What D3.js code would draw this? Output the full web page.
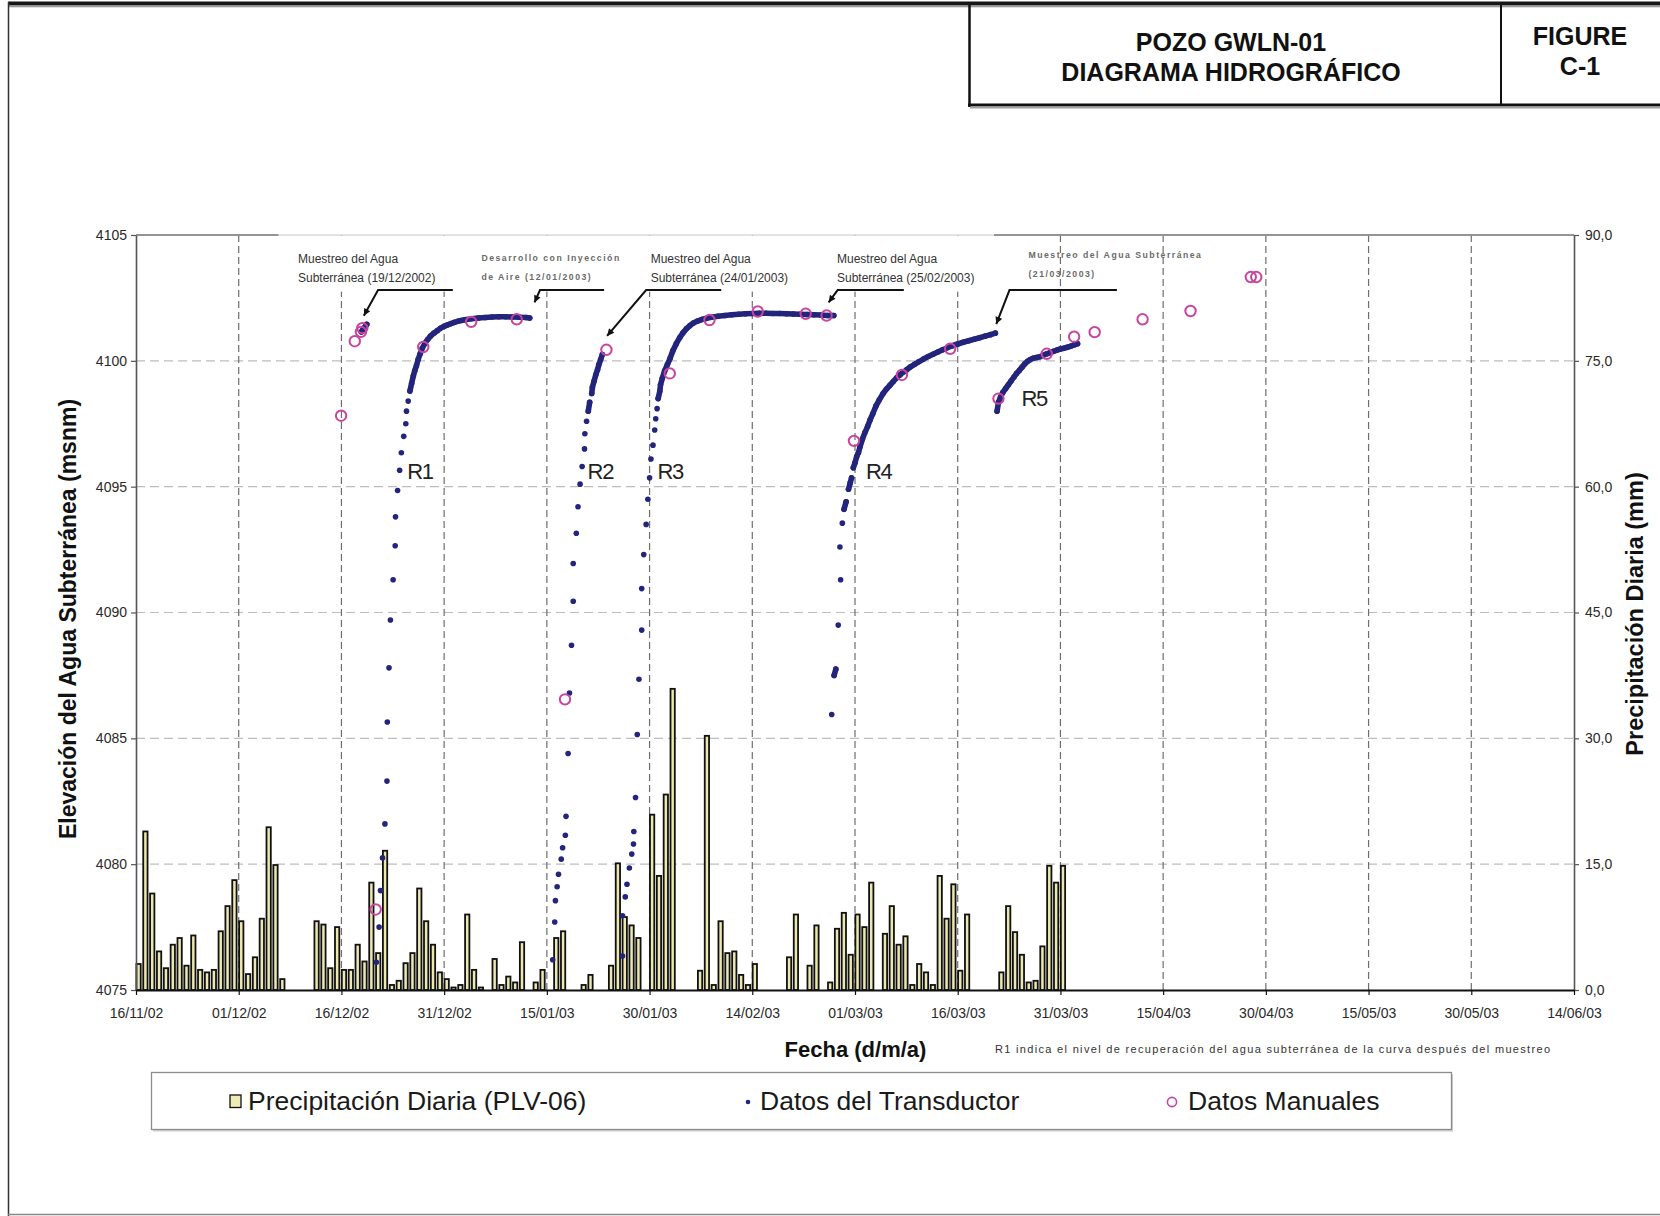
<!DOCTYPE html>
<html lang="es">
<head>
<meta charset="utf-8">
<title>Pozo GWLN-01 — Diagrama hidrográfico</title>
<script src="https://cdn.jsdelivr.net/npm/d3@7"></script>
<style>
  html, body { margin: 0; padding: 0; background: #fff; }
  svg { display: block; font-family: "Liberation Sans", Arial, Helvetica, sans-serif; }
</style>
</head>
<body>
<svg id="chart" width="1660" height="1216"></svg>
<script>
// ---------------------------------------------------------------------------
// Data. Days are counted from the first day of the record (16/11/2002).
// ---------------------------------------------------------------------------
const START_DATE = "2002-11-16";
const END_DATE = "2003-06-14";

const dateTicks = [
  "2002-11-16", "2002-12-01", "2002-12-16", "2002-12-31", "2003-01-15",
  "2003-01-30", "2003-02-14", "2003-03-01", "2003-03-16", "2003-03-31",
  "2003-04-15", "2003-04-30", "2003-05-15", "2003-05-30", "2003-06-14"
];
const elevationTicks = [4075, 4080, 4085, 4090, 4095, 4100, 4105];
const rainTicks = [0, 15, 30, 45, 60, 75, 90];

// Daily precipitation, station PLV-06 (mm)
const rainDay = [
  0, 1, 2, 3, 4, 5, 6, 7, 8, 9, 10, 11, 12, 13, 14, 15, 16, 17, 18, 19, 20, 21,
  26, 27, 28, 29, 30, 31, 32, 33, 34, 35, 36, 37, 38, 39, 40, 41, 42, 43, 44, 45, 46, 47, 48, 49, 50,
  52, 53, 54, 55, 56, 58, 59, 61, 62,
  65, 66, 69, 70, 71, 72, 73, 75, 76, 77, 78,
  82, 83, 84, 85, 86, 87, 88, 89, 90,
  95, 96, 98, 99, 101, 102, 103, 104, 105, 106, 107,
  109, 110, 111, 112, 113, 114, 115, 116, 117, 118, 119, 120, 121,
  126, 127, 128, 129, 130, 131, 132, 133, 134, 135
];
const rainMm = [
  3.1, 18.9, 11.5, 4.6, 2.6, 5.4, 6.2, 2.9, 6.5, 2.4, 2.1, 2.4, 7.0, 10.0, 13.1, 8.2, 1.9, 3.9, 8.5, 19.4, 14.9, 1.3,
  8.2, 7.8, 2.6, 7.5, 2.4, 2.4, 5.4, 3.4, 12.8, 4.4, 16.6, 0.6, 1.1, 3.2, 4.4, 12.1, 8.2, 5.4, 2.1, 1.3, 0.3, 0.6, 9.0, 2.4, 0.3,
  3.7, 0.6, 1.6, 0.9, 5.7, 0.9, 2.4, 6.2, 7.0,
  0.6, 1.8, 2.9, 15.1, 8.7, 7.7, 6.2, 20.9, 13.6, 23.3, 35.9,
  2.3, 30.3, 0.6, 8.2, 4.4, 4.6, 1.8, 0.6, 3.1,
  3.9, 9.0, 2.9, 7.7, 0.9, 7.3, 9.2, 4.2, 9.0, 7.5, 12.8,
  6.7, 10.0, 5.4, 6.4, 0.6, 3.1, 2.1, 0.6, 13.6, 8.5, 12.6, 2.3, 9.0,
  2.1, 10.0, 6.9, 4.2, 0.9, 1.1, 5.2, 14.8, 12.8, 14.8
];

// Transducer readings [day, elevation msnm], one array per logging run
const transducerPre = [
  [32.9, 4101.15], [33.1, 4101.22], [33.3, 4101.3], [33.5, 4101.37], [33.7, 4101.45]
];
const recoveryR1 = [
  [35.1, 4076.1], [35.5, 4077.5], [35.7, 4078.95], [36.0, 4080.25], [36.35, 4081.6],
  [36.65, 4083.3], [36.7, 4085.65], [36.95, 4087.8], [37.15, 4089.7], [37.55, 4091.3],
  [37.85, 4092.65], [37.9, 4093.8], [38.2, 4094.85], [38.5, 4095.65], [38.75, 4096.35],
  [39.1, 4097.0], [39.4, 4097.5], [39.5, 4098.0], [39.75, 4098.4], [40.0, 4098.8],
  [40.25, 4099.1], [40.5, 4099.4], [40.7, 4099.6], [40.95, 4099.8], [41.2, 4100.05],
  [41.45, 4100.25], [41.8, 4100.5], [42.2, 4100.7], [42.6, 4100.85], [43.0, 4100.98],
  [43.5, 4101.1], [44.0, 4101.2], [44.5, 4101.3], [45.0, 4101.37], [45.5, 4101.43],
  [46.0, 4101.48], [46.5, 4101.53], [47.0, 4101.57], [47.5, 4101.6], [48.0, 4101.63],
  [49.0, 4101.67], [50.0, 4101.7], [51.0, 4101.72], [52.0, 4101.74], [53.0, 4101.75],
  [54.0, 4101.75], [55.0, 4101.74], [56.0, 4101.73], [57.0, 4101.72], [57.5, 4101.7]
];
const recoveryR2 = [
  [60.85, 4076.2], [61.15, 4077.7], [61.25, 4078.55], [61.5, 4079.1], [61.7, 4079.6],
  [62.1, 4080.2], [62.3, 4080.65], [62.7, 4081.15], [62.8, 4081.9], [63.1, 4084.4],
  [63.3, 4086.8], [63.6, 4088.7], [63.85, 4090.45], [63.85, 4091.95], [64.3, 4093.15],
  [64.55, 4094.2], [64.85, 4095.1], [65.15, 4095.8], [65.5, 4096.5], [65.55, 4097.1],
  [65.8, 4097.6], [66.05, 4098.0], [66.25, 4098.35], [66.55, 4098.7], [66.65, 4098.95],
  [66.9, 4099.2], [67.15, 4099.45], [67.4, 4099.65], [67.6, 4099.85], [67.85, 4100.05],
  [68.1, 4100.25]
];
const recoveryR3 = [
  [71.05, 4076.35], [71.05, 4077.95], [71.45, 4078.7], [71.7, 4079.2], [72.05, 4079.85],
  [72.4, 4080.4], [72.65, 4080.8], [72.7, 4081.3], [72.95, 4082.65], [73.2, 4085.15],
  [73.45, 4087.35], [73.85, 4089.3], [73.85, 4090.95], [74.15, 4092.3], [74.5, 4093.5],
  [74.75, 4094.5], [75.0, 4095.35], [75.2, 4096.1], [75.5, 4096.65], [75.75, 4097.25],
  [75.9, 4097.7], [76.1, 4098.1], [76.25, 4098.5], [76.5, 4098.8], [76.6, 4099.05],
  [76.85, 4099.3], [77.2, 4099.6], [77.6, 4099.85], [78.0, 4100.1], [78.4, 4100.4],
  [78.9, 4100.68], [79.4, 4100.92], [79.9, 4101.12], [80.4, 4101.28], [80.9, 4101.4],
  [81.4, 4101.5], [82.0, 4101.58], [82.6, 4101.64], [83.2, 4101.68], [84.0, 4101.73],
  [85.0, 4101.77], [86.0, 4101.8], [87.0, 4101.83], [88.0, 4101.85], [89.0, 4101.87],
  [90.0, 4101.88], [91.0, 4101.89], [92.0, 4101.89], [93.0, 4101.88], [94.0, 4101.88],
  [95.0, 4101.87], [96.0, 4101.86], [97.0, 4101.85], [98.0, 4101.84], [99.0, 4101.83],
  [100.0, 4101.82], [101.0, 4101.8], [101.9, 4101.8]
];
const recoveryR4 = [
  [101.6, 4085.95], [101.95, 4087.5], [102.2, 4087.75], [102.55, 4089.5], [102.9, 4091.3],
  [102.8, 4092.6], [103.15, 4093.55], [103.4, 4094.1], [103.7, 4094.4], [104.05, 4094.9],
  [104.3, 4095.15], [104.5, 4095.35], [104.75, 4095.75], [105.0, 4095.95], [105.25, 4096.2],
  [105.5, 4096.35], [105.75, 4096.6], [106.1, 4096.9], [106.45, 4097.15], [106.85, 4097.4],
  [107.2, 4097.65], [107.6, 4097.9], [108.05, 4098.2], [108.55, 4098.45], [109.1, 4098.7],
  [109.6, 4098.88], [110.1, 4099.03], [110.6, 4099.18], [111.1, 4099.33], [111.6, 4099.45],
  [112.1, 4099.56], [112.6, 4099.66], [113.1, 4099.76], [113.7, 4099.86], [114.3, 4099.96],
  [115.0, 4100.07], [115.7, 4100.17], [116.4, 4100.26], [117.1, 4100.35], [117.8, 4100.44],
  [118.5, 4100.52], [119.2, 4100.6], [120.0, 4100.67], [120.8, 4100.74], [121.6, 4100.8],
  [122.4, 4100.86], [123.2, 4100.92], [124.0, 4100.98], [124.8, 4101.04], [125.5, 4101.1]
];
const recoveryR5 = [
  [125.75, 4098.0], [125.95, 4098.35], [126.25, 4098.55], [126.6, 4098.75], [127.0, 4098.9],
  [127.4, 4099.05], [127.8, 4099.2], [128.2, 4099.35], [128.6, 4099.5], [129.0, 4099.62],
  [129.4, 4099.75], [129.8, 4099.88], [130.2, 4099.98], [130.6, 4100.05], [131.0, 4100.1],
  [131.5, 4100.13], [132.0, 4100.16], [132.5, 4100.22], [133.0, 4100.28], [133.5, 4100.33],
  [134.0, 4100.38], [134.5, 4100.43], [135.0, 4100.47], [135.5, 4100.5], [136.0, 4100.54],
  [136.5, 4100.58], [137.0, 4100.63], [137.5, 4100.68]
];
const transducerRuns = [transducerPre, recoveryR1, recoveryR2, recoveryR3, recoveryR4, recoveryR5];

// Manual water-level soundings [day, elevation msnm]
const manualReadings = [
  [29.95, 4097.82], [31.95, 4100.78], [32.85, 4101.15], [33.05, 4101.3], [35.0, 4078.2],
  [41.95, 4100.55], [48.95, 4101.55], [55.6, 4101.65], [62.65, 4086.55], [68.7, 4100.44],
  [77.95, 4099.5], [83.75, 4101.62], [90.8, 4101.96], [97.8, 4101.87], [100.85, 4101.8],
  [104.85, 4096.82], [111.85, 4099.44], [118.9, 4100.48], [125.95, 4098.5], [133.0, 4100.28],
  [137.0, 4100.96], [140.0, 4101.14], [147.0, 4101.65], [154.0, 4101.98], [162.8, 4103.33],
  [163.6, 4103.33]
];

// Recovery curve names, anchored in chart units (day, elevation)
const recoveryNames = ["R1", "R2", "R3", "R4", "R5"];
const recoveryNameAt = [[39.6, 4095.3], [65.95, 4095.3], [76.15, 4095.3], [106.6, 4095.3], [129.3, 4098.2]];

// Event notes with callout arrows: tip, elbow and end of the leader (day, elevation)
const eventNotes = [
  { lines: ["Muestreo del Agua", "Subterránea (19/12/2002)"], style: "main",
    at: [23.66, 4103.9], leader: [[33.27, 4101.79], [35.35, 4102.81], [46.27, 4102.81]] },
  { lines: ["Desarrollo con Inyección", "de Aire (12/01/2003)"], style: "small",
    at: [50.44, 4103.95], leader: [[58.2, 4102.32], [59.0, 4102.81], [68.36, 4102.81]] },
  { lines: ["Muestreo del Agua", "Subterránea (24/01/2003)"], style: "main",
    at: [75.16, 4103.9], leader: [[68.8, 4100.99], [74.5, 4102.81], [85.46, 4102.81]] },
  { lines: ["Muestreo del Agua", "Subterránea (25/02/2003)"], style: "main",
    at: [102.37, 4103.9], leader: [[101.15, 4102.32], [102.46, 4102.81], [112.13, 4102.81]] },
  { lines: ["Muestreo del Agua Subterránea", "(21/03/2003)"], style: "small",
    at: [130.33, 4104.08], leader: [[125.63, 4101.46], [127.56, 4102.81], [143.25, 4102.81]] }
];

// ---------------------------------------------------------------------------
// Layout and scales
// ---------------------------------------------------------------------------
const W = 1660, H = 1216;
const plot = { left: 136, right: 1574, top: 235, bottom: 990 };
const FONT = '"Liberation Sans", Arial, Helvetica, sans-serif';
const NAVY = "#23247c";
const MAGENTA = "#c8459f";

const svg = d3.select("#chart");
svg.append("rect").attr("width", W).attr("height", H).attr("fill", "#fff");

const parseDate = d3.utcParse("%Y-%m-%d");
const t0 = parseDate(START_DATE);
const tickDates = dateTicks.map(parseDate);
const x = d3.scaleUtc().domain([t0, parseDate(END_DATE)]).range([plot.left, plot.right]);
const xDay = d => x(new Date(t0.getTime() + d * 864e5));
const y = d3.scaleLinear().domain([4075, 4105]).range([plot.bottom, plot.top]);
const yRain = d3.scaleLinear().domain([0, 90]).range([plot.bottom, plot.top]);

// ---------------------------------------------------------------------------
// Page frame and title block
// ---------------------------------------------------------------------------
const frame = svg.append("g");
frame.append("rect").attr("x", 8).attr("y", 1.5).attr("width", W - 8).attr("height", 4).attr("fill", "#161616");
frame.append("rect").attr("x", 8).attr("y", 5.5).attr("width", W - 8).attr("height", 1.8).attr("fill", "#9a9a9a");
frame.append("line").attr("x1", 8.5).attr("x2", 8.5).attr("y1", 2).attr("y2", H)
  .attr("stroke", "#333").attr("stroke-width", 1.5);
frame.append("line").attr("x1", 8).attr("x2", W).attr("y1", 1214.5).attr("y2", 1214.5)
  .attr("stroke", "#888").attr("stroke-width", 1.5);
// title box
frame.append("line").attr("x1", 969.5).attr("x2", 969.5).attr("y1", 5).attr("y2", 107)
  .attr("stroke", "#111").attr("stroke-width", 2.5);
frame.append("rect").attr("x", 968).attr("y", 103.5).attr("width", W - 968).attr("height", 3).attr("fill", "#111");
frame.append("rect").attr("x", 970).attr("y", 106.5).attr("width", W - 970).attr("height", 2).attr("fill", "#a0a0a0");
frame.append("line").attr("x1", 1501).attr("x2", 1501).attr("y1", 5).attr("y2", 104)
  .attr("stroke", "#111").attr("stroke-width", 2);

const titleText = (txt, cx, by) => frame.append("text").attr("x", cx).attr("y", by)
  .attr("text-anchor", "middle").attr("font-family", FONT).attr("font-weight", "bold")
  .attr("font-size", 25).attr("fill", "#111").text(txt);
titleText("POZO GWLN-01", 1231, 50.5);
titleText("DIAGRAMA HIDROGRÁFICO", 1231, 81);
titleText("FIGURE", 1580, 44.5);
titleText("C-1", 1580, 75);

// ---------------------------------------------------------------------------
// Grid
// ---------------------------------------------------------------------------
const grid = svg.append("g");
grid.selectAll("line.h").data(elevationTicks.slice(1, -1)).join("line")
  .attr("class", "h")
  .attr("x1", plot.left).attr("x2", plot.right)
  .attr("y1", d => y(d)).attr("y2", d => y(d))
  .attr("stroke", "#bdbdbd").attr("stroke-width", 1.2).attr("stroke-dasharray", "9,5");
grid.selectAll("line.v").data(tickDates.slice(1, -1)).join("line")
  .attr("class", "v")
  .attr("x1", d => x(d)).attr("x2", d => x(d))
  .attr("y1", plot.top).attr("y2", plot.bottom)
  .attr("stroke", "#6e6e6e").attr("stroke-width", 1.2).attr("stroke-dasharray", "7,4");

// white panel behind the event notes
const panelX0 = xDay(20.8), panelX1 = xDay(125.3);
svg.append("rect").attr("x", panelX0).attr("y", plot.top + 1)
  .attr("width", panelX1 - panelX0).attr("height", y(4102.75) - plot.top - 1)
  .attr("fill", "#fff");

// top edge of the plot area
svg.append("line").attr("x1", plot.left).attr("x2", plot.right).attr("y1", plot.top).attr("y2", plot.top)
  .attr("stroke", "#dadada").attr("stroke-width", 1.5);
svg.append("line").attr("x1", plot.left).attr("x2", panelX0).attr("y1", plot.top).attr("y2", plot.top)
  .attr("stroke", "#7a7a7a").attr("stroke-width", 1.5);
svg.append("line").attr("x1", panelX1).attr("x2", plot.right).attr("y1", plot.top).attr("y2", plot.top)
  .attr("stroke", "#7a7a7a").attr("stroke-width", 1.5);

// ---------------------------------------------------------------------------
// Precipitation bars (right axis)
// ---------------------------------------------------------------------------
const barW = 4.3;
svg.append("g").selectAll("rect").data(d3.zip(rainDay, rainMm)).join("rect")
  .attr("x", d => xDay(d[0]) + 0.4)
  .attr("width", barW)
  .attr("y", d => yRain(d[1]))
  .attr("height", d => yRain(0) - yRain(d[1]))
  .attr("fill", "#ece8b0").attr("stroke", "#111").attr("stroke-width", 1.8);

// ---------------------------------------------------------------------------
// Axes
// ---------------------------------------------------------------------------
const styleAxis = (g, color) => {
  g.attr("font-family", FONT).attr("font-size", 14);
  g.select(".domain").attr("stroke", color).attr("stroke-width", 1.6);
  g.selectAll(".tick line").attr("stroke", color).attr("stroke-width", 1.2);
  g.selectAll(".tick text").attr("fill", "#2a2a2a");
};

const axisLeft = svg.append("g").attr("transform", `translate(${plot.left},0)`)
  .call(d3.axisLeft(y).tickValues(elevationTicks).tickSize(5).tickSizeOuter(0)
    .tickPadding(4).tickFormat(d3.format("d")));
styleAxis(axisLeft, "#555");

const commaDecimal = d => d3.format(".1f")(d).replace(".", ",");
const axisRight = svg.append("g").attr("transform", `translate(${plot.right},0)`)
  .call(d3.axisRight(yRain).tickValues(rainTicks).tickSize(5).tickSizeOuter(0)
    .tickPadding(6).tickFormat(commaDecimal));
styleAxis(axisRight, "#555");

const axisBottom = svg.append("g").attr("transform", `translate(0,${plot.bottom})`)
  .call(d3.axisBottom(x).tickValues(tickDates).tickSize(5).tickSizeOuter(0)
    .tickPadding(13).tickFormat(d3.utcFormat("%d/%m/%y")));
styleAxis(axisBottom, "#111");
axisBottom.select(".domain").attr("stroke-width", 1.8);

// axis titles
svg.append("text").attr("transform", "translate(76,619) rotate(-90)")
  .attr("text-anchor", "middle").attr("font-family", FONT).attr("font-weight", "bold")
  .attr("font-size", 23).attr("fill", "#111").text("Elevación del Agua Subterránea (msnm)");
svg.append("text").attr("transform", "translate(1643,614) rotate(-90)")
  .attr("text-anchor", "middle").attr("font-family", FONT).attr("font-weight", "bold")
  .attr("font-size", 23.5).attr("fill", "#111").text("Precipitación Diaria (mm)");
svg.append("text").attr("x", 855.5).attr("y", 1056.5)
  .attr("text-anchor", "middle").attr("font-family", FONT).attr("font-weight", "bold")
  .attr("font-size", 22).attr("fill", "#111").text("Fecha (d/m/a)");
svg.append("text").attr("x", 995).attr("y", 1053)
  .attr("font-family", FONT).attr("font-size", 11).attr("fill", "#333")
  .attr("textLength", 555).attr("lengthAdjust", "spacing")
  .text("R1 indica el nivel de recuperación del agua subterránea de la curva después del muestreo");

// ---------------------------------------------------------------------------
// Water levels
// ---------------------------------------------------------------------------
const levels = svg.append("g");
transducerRuns.forEach(run => {
  const pts = run.map(([d, v]) => [xDay(d), y(v)]);
  // neighbouring readings that overlap on screen are merged into a solid band
  const band = d3.path();
  for (let i = 1; i < pts.length; i++) {
    const a = pts[i - 1], b = pts[i];
    if (Math.hypot(b[0] - a[0], b[1] - a[1]) < 9) { band.moveTo(a[0], a[1]); band.lineTo(b[0], b[1]); }
  }
  levels.append("path").attr("d", band.toString()).attr("fill", "none")
    .attr("stroke", NAVY).attr("stroke-width", 5.6).attr("stroke-linecap", "round");
  levels.append("g").selectAll("circle").data(pts).join("circle")
    .attr("cx", p => p[0]).attr("cy", p => p[1]).attr("r", 2.8).attr("fill", NAVY);
});

levels.append("g").selectAll("circle").data(manualReadings).join("circle")
  .attr("cx", d => xDay(d[0])).attr("cy", d => y(d[1])).attr("r", 5.2)
  .attr("fill", "none").attr("stroke", MAGENTA).attr("stroke-width", 2);

// recovery curve names
svg.append("g").selectAll("text").data(recoveryNames).join("text")
  .attr("x", (d, i) => xDay(recoveryNameAt[i][0]))
  .attr("y", (d, i) => y(recoveryNameAt[i][1]))
  .attr("font-family", FONT).attr("font-size", 22).attr("letter-spacing", -1.3)
  .attr("fill", "#222").text(d => d);

// ---------------------------------------------------------------------------
// Event notes and callouts
// ---------------------------------------------------------------------------
svg.append("defs").append("marker")
  .attr("id", "arrowhead").attr("viewBox", "0 0 10 10").attr("refX", 10).attr("refY", 5)
  .attr("markerUnits", "userSpaceOnUse").attr("markerWidth", 9).attr("markerHeight", 7)
  .attr("orient", "auto-start-reverse")
  .append("path").attr("d", "M0,0L10,5L0,10z").attr("fill", "#111");

const noteStyles = {
  main:  { size: 12, weight: "normal", spacing: 0, fill: "#333", gap: 19.8 },
  small: { size: 8.7, weight: "bold", spacing: 1.5, fill: "#6a6a6a", gap: 19 }
};
const notes = svg.append("g");
eventNotes.forEach(n => {
  const s = noteStyles[n.style];
  n.lines.forEach((line, i) => {
    notes.append("text").attr("x", xDay(n.at[0])).attr("y", y(n.at[1]) + i * s.gap)
      .attr("font-family", FONT).attr("font-size", s.size).attr("font-weight", s.weight)
      .attr("letter-spacing", s.spacing).attr("fill", s.fill).text(line);
  });
  notes.append("path")
    .attr("d", d3.line()(n.leader.map(([d, v]) => [xDay(d), y(v)])))
    .attr("fill", "none").attr("stroke", "#111").attr("stroke-width", 2)
    .attr("marker-start", "url(#arrowhead)");
});

// ---------------------------------------------------------------------------
// Legend
// ---------------------------------------------------------------------------
const legend = svg.append("g");
legend.append("rect").attr("x", 153).attr("y", 1074.5).attr("width", 1300).attr("height", 57)
  .attr("fill", "#cfcfcf");
legend.append("rect").attr("x", 151.5).attr("y", 1072.5).attr("width", 1300).attr("height", 57)
  .attr("fill", "#fff").attr("stroke", "#8c8c8c").attr("stroke-width", 1.3);
legend.append("rect").attr("x", 230).attr("y", 1095).attr("width", 11).attr("height", 12.5)
  .attr("fill", "#efebb4").attr("stroke", "#111").attr("stroke-width", 1.3);
legend.append("circle").attr("cx", 748).attr("cy", 1102).attr("r", 2.3).attr("fill", NAVY);
legend.append("circle").attr("cx", 1172).attr("cy", 1102).attr("r", 4.6)
  .attr("fill", "none").attr("stroke", MAGENTA).attr("stroke-width", 1.6);
const legendItems = [["Precipitación Diaria (PLV-06)", 248], ["Datos del Transductor", 760], ["Datos Manuales", 1188]];
legend.selectAll("text").data(legendItems).join("text")
  .attr("x", d => d[1]).attr("y", 1110)
  .attr("font-family", FONT).attr("font-size", 26.5).attr("fill", "#1a1a1a").text(d => d[0]);
</script>
</body>
</html>
